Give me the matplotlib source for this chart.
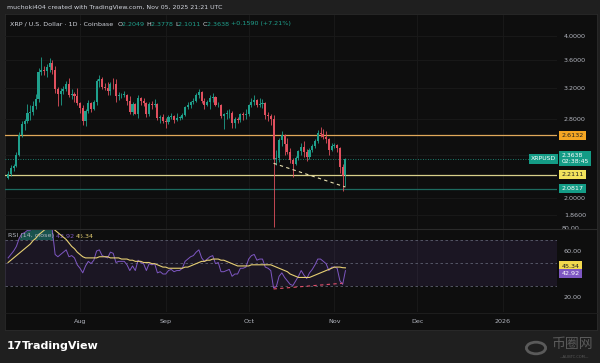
import matplotlib
matplotlib.use('Agg')
import matplotlib.pyplot as plt
import matplotlib.dates as mdates
import matplotlib.patches as mpatches
import numpy as np
import pandas as pd

# daily candles, Coinbase XRP/USD, 2025-07-06 .. 2025-11-05
opens = [2.18, 2.22, 2.27, 2.29, 2.40, 2.62, 2.74,
         2.78, 2.87, 2.89, 2.96, 3.05, 3.43, 3.46,
         3.44, 3.50, 3.56, 3.45, 3.18, 3.12, 3.16,
         3.19, 3.26, 3.10, 3.12, 3.09, 3.00, 2.94,
         2.78, 2.90, 3.00, 2.93, 3.01, 3.30, 3.33,
         3.22, 3.20, 3.16, 3.26, 3.25, 3.09, 3.10,
         3.11, 3.11, 3.03, 2.89, 2.99, 2.86, 3.07,
         3.03, 3.00, 2.86, 2.99, 2.98, 2.99, 2.82,
         2.83, 2.78, 2.77, 2.83, 2.84, 2.79, 2.82,
         2.82, 2.85, 2.95, 2.97, 3.01, 3.03, 3.10,
         3.14, 3.03, 2.98, 3.02, 3.06, 3.08, 2.97,
         2.98, 2.84, 2.86, 2.87, 2.88, 2.76, 2.80,
         2.79, 2.86, 2.85, 2.86, 2.97, 3.02, 3.04,
         2.98, 2.99, 3.00, 2.85, 2.84, 2.80, 2.36,
         2.37, 2.56, 2.62, 2.52, 2.43, 2.35, 2.31,
         2.37, 2.44, 2.49, 2.43, 2.38, 2.46, 2.50,
         2.55, 2.64, 2.63, 2.60, 2.57, 2.46, 2.50,
         2.51, 2.48, 2.28, 2.2049]
highs = [2.24, 2.30, 2.31, 2.43, 2.65, 2.78, 2.80,
         2.99, 2.97, 3.03, 3.12, 3.48, 3.66, 3.52,
         3.54, 3.64, 3.60, 3.52, 3.22, 3.20, 3.23,
         3.30, 3.34, 3.19, 3.15, 3.20, 3.01, 2.97,
         2.93, 3.04, 3.02, 3.04, 3.32, 3.38, 3.36,
         3.27, 3.28, 3.28, 3.34, 3.33, 3.14, 3.13,
         3.16, 3.12, 3.09, 3.01, 3.00, 3.10, 3.08,
         3.06, 3.02, 3.01, 3.03, 3.05, 3.00, 2.85,
         2.86, 2.81, 2.85, 2.87, 2.85, 2.87, 2.84,
         2.87, 2.96, 3.01, 3.03, 3.06, 3.13, 3.19,
         3.16, 3.07, 3.04, 3.10, 3.13, 3.09, 3.01,
         2.99, 2.87, 2.91, 2.92, 2.90, 2.83, 2.83,
         2.87, 2.89, 2.92, 2.99, 3.07, 3.10, 3.05,
         3.07, 3.05, 3.02, 2.89, 2.86, 2.85, 2.46,
         2.59, 2.66, 2.63, 2.59, 2.48, 2.37, 2.39,
         2.46, 2.53, 2.55, 2.47, 2.48, 2.52, 2.57,
         2.68, 2.71, 2.69, 2.66, 2.59, 2.53, 2.53,
         2.52, 2.49, 2.31, 2.3778]
lows = [2.17, 2.20, 2.24, 2.28, 2.39, 2.60, 2.68,
        2.75, 2.79, 2.85, 2.93, 3.02, 3.38, 3.39,
        3.36, 3.42, 3.40, 3.13, 2.96, 2.98, 3.12,
        3.16, 3.08, 3.05, 3.01, 2.98, 2.88, 2.73,
        2.72, 2.88, 2.89, 2.91, 2.98, 3.22, 3.19,
        3.17, 3.11, 3.11, 3.18, 3.02, 3.04, 3.06,
        3.08, 2.98, 2.86, 2.85, 2.86, 2.82, 2.98,
        2.96, 2.83, 2.84, 2.93, 2.95, 2.79, 2.76,
        2.76, 2.70, 2.74, 2.80, 2.75, 2.78, 2.79,
        2.80, 2.84, 2.93, 2.94, 2.99, 3.02, 3.06,
        3.00, 2.93, 2.96, 2.93, 3.02, 2.96, 2.95,
        2.82, 2.69, 2.80, 2.82, 2.70, 2.70, 2.76,
        2.77, 2.79, 2.80, 2.84, 2.95, 2.98, 2.95,
        2.95, 2.94, 2.80, 2.78, 2.73, 1.77, 2.30,
        2.33, 2.50, 2.40, 2.41, 2.32, 2.19, 2.30,
        2.35, 2.40, 2.38, 2.34, 2.36, 2.43, 2.48,
        2.53, 2.60, 2.57, 2.53, 2.40, 2.44, 2.48,
        2.43, 2.23, 2.06, 2.1011]
closes = [2.22, 2.27, 2.29, 2.40, 2.62, 2.74, 2.78,
          2.87, 2.89, 2.96, 3.05, 3.43, 3.46, 3.44,
          3.50, 3.56, 3.45, 3.18, 3.12, 3.16, 3.19,
          3.26, 3.10, 3.12, 3.09, 3.00, 2.94, 2.78,
          2.90, 3.00, 2.93, 3.01, 3.30, 3.33, 3.22,
          3.20, 3.16, 3.26, 3.25, 3.09, 3.10, 3.11,
          3.11, 3.03, 2.89, 2.99, 2.86, 3.07, 3.03,
          3.00, 2.86, 2.99, 2.98, 2.99, 2.82, 2.83,
          2.78, 2.77, 2.83, 2.84, 2.79, 2.82, 2.82,
          2.85, 2.95, 2.97, 3.01, 3.03, 3.10, 3.14,
          3.03, 2.98, 3.02, 3.06, 3.08, 2.97, 2.98,
          2.84, 2.86, 2.87, 2.88, 2.76, 2.80, 2.79,
          2.86, 2.85, 2.86, 2.97, 3.02, 3.04, 2.98,
          2.99, 3.00, 2.85, 2.84, 2.80, 2.36, 2.37,
          2.56, 2.62, 2.52, 2.43, 2.35, 2.31, 2.37,
          2.44, 2.49, 2.43, 2.38, 2.46, 2.50, 2.55,
          2.64, 2.63, 2.60, 2.57, 2.46, 2.50, 2.51,
          2.48, 2.28, 2.20, 2.3638]

rsi = [54, 57, 60, 64, 71, 75, 76,
       78, 78, 80, 82, 86, 84, 82,
       83, 84, 78, 57, 55, 57, 59,
       61, 55, 56, 54, 48, 45, 41,
       47, 51, 49, 52, 60, 61, 56,
       55, 54, 59, 58, 50, 51, 51,
       51, 48, 43, 47, 43, 52, 50,
       49, 43, 49, 48, 49, 41, 42,
       40, 40, 43, 44, 42, 43, 43,
       45, 51, 53, 55, 56, 59, 61,
       54, 51, 53, 55, 56, 49, 50,
       42, 42, 43, 44, 38, 40, 40,
       45, 45, 46, 53, 56, 57, 52,
       53, 53, 46, 45, 43, 28, 29,
       38, 41, 37, 34, 31, 30, 34,
       38, 43, 39, 36, 41, 44, 48,
       53, 53, 51, 49, 43, 46, 46,
       45, 34, 31, 42.92]
rsi_ma = [50, 52, 54, 56, 58, 60, 62,
          64, 66, 69, 71, 74, 76, 78,
          80, 81, 80, 78, 76, 74, 72,
          70, 67, 64, 62, 59, 57, 55,
          54, 54, 54, 54, 54, 55, 55,
          55, 55, 54, 54, 54, 54, 53,
          53, 53, 52, 52, 51, 51, 51,
          50, 50, 50, 49, 49, 48, 47,
          46, 46, 45, 45, 45, 45, 45,
          45, 46, 46, 47, 48, 49, 50,
          51, 51, 52, 52, 53, 53, 53,
          52, 52, 51, 50, 49, 48, 47,
          47, 47, 47, 47, 48, 48, 48,
          48, 48, 48, 48, 48, 47, 46,
          45, 44, 43, 42, 40, 39, 38,
          37, 37, 37, 37, 37, 38, 39,
          40, 41, 42, 43, 44, 45, 46,
          46, 46, 45.5, 45.34]

levels = [2.6132, 2.2111, 2.0817]
level_colors = ['#e0a85a', '#d8cf8a', '#1d6b60']
level_boxes = ['#f5a623', '#f2e35c', '#149c86']
price_ticks = [4.0, 3.6, 3.2, 2.8, 2.4, 2.0, 1.86]
month_ticks = ['2025-08-01', '2025-09-01', '2025-10-01', '2025-11-01', '2025-12-01', '2026-01-01']
month_labels = ['Aug', 'Sep', 'Oct', 'Nov', 'Dec', '2026']
trend_dates = ['2025-10-10', '2025-11-05']
trend_prices = [2.32, 2.096]
div_dates = ['2025-10-10', '2025-11-04']
div_rsi = [27, 32]

dates = pd.date_range('2025-07-06', periods=len(closes), freq='D')
x = mdates.date2num(dates)
o, h, l, c = map(np.array, (opens, highs, lows, closes))

W, H = 600, 363
BG = '#0e0e0e'
OUT = '#1f1f1f'
TXT = '#b2b5be'
UP, DN = '#1fa08c', '#e0505e'


def fx(px):
    return px / W


def fy(py):
    return 1 - py / H


fig = plt.figure(figsize=(6, 3.63), dpi=100, facecolor=OUT)

# chart panel background
panel = fig.add_axes([fx(5), fy(330), (597 - 5) / W, (330 - 14) / H])
panel.set_facecolor(BG)
panel.set_xticks([])
panel.set_yticks([])
for s in panel.spines.values():
    s.set_color('#2a2a2a')
    s.set_linewidth(0.6)

x0 = mdates.date2num(pd.Timestamp('2025-08-01'))
pxday = 2.765
xlim = (x0 - 75 / pxday, x0 + 477 / pxday)

# price pane
ax = fig.add_axes([fx(5), fy(229), (557 - 5) / W, (229 - 15) / H])
ax.set_facecolor('none')
ax.set_yscale('log')
ax.set_ylim(2 * np.exp(-31 / 234), 2 * np.exp(183 / 234))
ax.set_xlim(*xlim)
for s in ax.spines.values():
    s.set_visible(False)

mt = mdates.date2num(pd.to_datetime(month_ticks))
for v in mt:
    ax.axvline(v, color='#1a1a1a', lw=0.6, zorder=0)
for p in price_ticks:
    ax.axhline(p, color='#1a1a1a', lw=0.6, zorder=0)

up = c >= o
col = np.where(up, UP, DN)
ax.vlines(x, l, h, colors=col, lw=0.6, zorder=3)
body_lo = np.minimum(o, c)
body_hi = np.maximum(np.maximum(o, c), body_lo * 1.003)
ax.bar(x, body_hi - body_lo, bottom=body_lo, width=0.75, color=col, zorder=4, linewidth=0)

for lv, lc in zip(levels, level_colors):
    ax.axhline(lv, color=lc, lw=0.9, zorder=2)
ax.axhline(closes[-1], color=UP, lw=0.6, ls=(0, (1, 2)), zorder=2)

td = mdates.date2num(pd.to_datetime(trend_dates))
ax.plot(td, trend_prices, color='#e8e0b0', lw=0.8, ls=(0, (3, 3)), zorder=5)

ax.yaxis.tick_right()
ax.set_yticks(price_ticks)
ax.set_yticklabels(['%.4f' % p for p in price_ticks])
ax.yaxis.set_minor_locator(matplotlib.ticker.NullLocator())
ax.tick_params(axis='y', length=0, pad=5, labelsize=4.6, labelcolor=TXT)
ax.set_xticks([])

trans = ax.get_yaxis_transform()
for lv, bc in zip(levels, level_boxes):
    tc = '#202020' if bc != '#149c86' else 'white'
    ax.text(1.008, lv, '%.4f' % lv, transform=trans, ha='left', va='center', fontsize=4.6,
            color=tc, bbox=dict(boxstyle='square,pad=0.35', fc=bc, ec='none'), zorder=10)
ax.text(1.008, closes[-1], '%.4f\n02:38:45' % closes[-1], transform=trans, ha='left', va='center',
        fontsize=4.4, color='white', linespacing=1.2,
        bbox=dict(boxstyle='square,pad=0.35', fc='#149c86', ec='none'), zorder=10)
ax.text(0.998, closes[-1], 'XRPUSD', transform=trans, ha='right', va='center', fontsize=4.4,
        color='white', bbox=dict(boxstyle='square,pad=0.35', fc='#149c86', ec='none'), zorder=10)

# RSI pane
rx = fig.add_axes([fx(5), fy(312), (557 - 5) / W, (312 - 229) / H])
rx.set_facecolor('none')
rx.set_xlim(*xlim)
rx.set_ylim(20 - 15 / 1.15, 20 + 68 / 1.15)
for s in rx.spines.values():
    s.set_visible(False)
for v in mt:
    rx.axvline(v, color='#1a1a1a', lw=0.6, zorder=0)
rx.axhspan(30, 70, color='#7e57c2', alpha=0.12, lw=0)
for lv in (70, 50, 30):
    rx.axhline(lv, color='#5d6070', lw=0.6, ls=(0, (3, 3)))
rv = np.array(rsi, dtype=float)
rx.fill_between(x, 70, rv, where=rv > 70, interpolate=True, color='#26a69a', alpha=0.45, lw=0)
rx.fill_between(x, 30, rv, where=rv < 30, interpolate=True, color='#f23645', alpha=0.45, lw=0)
rx.plot(x, rsi, color='#7e57c2', lw=0.7)
rx.plot(x, rsi_ma, color='#e6cf73', lw=0.8)
dd = mdates.date2num(pd.to_datetime(div_dates))
rx.plot(dd, div_rsi, color='#e0506a', lw=0.8, ls=(0, (3, 3)))

rx.yaxis.tick_right()
rx.set_yticks([20, 60])
rx.set_yticklabels(['20.00', '60.00'])
rx.tick_params(axis='y', length=0, pad=5, labelsize=4.6, labelcolor=TXT)
rx.set_xticks(mt)
rx.set_xticklabels(month_labels)
rx.tick_params(axis='x', length=0, pad=5, labelsize=4.6, labelcolor=TXT)
rtr = rx.get_yaxis_transform()
rx.text(1.008, 80, '80.00', transform=rtr, ha='left', va='center', fontsize=4.6, color=TXT, clip_on=False)
rx.text(1.008, rsi_ma[-1] + 1.5, '%.2f' % rsi_ma[-1], transform=rtr, ha='left', va='center', fontsize=4.6,
        color='#202020', bbox=dict(boxstyle='square,pad=0.35', fc='#f2d94e', ec='none'), zorder=10)
rx.text(1.008, rsi[-1] - 2.5, '%.2f' % rsi[-1], transform=rtr, ha='left', va='center', fontsize=4.6,
        color='white', bbox=dict(boxstyle='square,pad=0.35', fc='#7e57c2', ec='none'), zorder=10)

# pane separators
fig.add_artist(plt.Line2D([fx(5), fx(597)], [fy(229), fy(229)], color='#2a2a2a', lw=0.8))
fig.add_artist(plt.Line2D([fx(5), fx(597)], [fy(313), fy(313)], color='#202020', lw=0.6))

fig.text(fx(7), fy(7), 'muchoki404 created with TradingView.com, Nov 05, 2025 21:21 UTC',
         color='#d1d4dc', fontsize=4.5, va='center')

# legend lines made of coloured pieces, each placed right after the previous one
header = [('XRP / U.S. Dollar · 1D · Coinbase  ', '#d1d4dc'), ('O', '#d1d4dc'), ('2.2049 ', UP),
          ('H', '#d1d4dc'), ('2.3778 ', UP), ('L', '#d1d4dc'), ('2.1011 ', UP),
          ('C', '#d1d4dc'), ('2.3638 ', UP), ('+0.1590 (+7.21%)', UP)]
prev = fig.text(fx(10), fy(24), header[0][0], color=header[0][1], fontsize=4.6, va='center')
for s, cc in header[1:]:
    prev = ax.annotate(s, xy=(1, 0.5), xycoords=prev, va='center', ha='left', color=cc, fontsize=4.6,
                       annotation_clip=False)

legend = [('RSI (14, close) ', '#b2b5be'), ('42.92 ', '#7e57c2'), ('45.34', '#e6cf73')]
prev = fig.text(fx(8), fy(236), legend[0][0], color=legend[0][1], fontsize=4.6, va='center')
for s, cc in legend[1:]:
    prev = ax.annotate(s, xy=(1, 0.5), xycoords=prev, va='center', ha='left', color=cc, fontsize=4.6,
                       annotation_clip=False)

# footer
fig.text(fx(7), fy(346), '17', color='white', fontsize=8, fontweight='black', va='center')
fig.text(fx(22), fy(346), 'TradingView', color='white', fontsize=8, fontweight='bold', va='center')
fig.add_artist(mpatches.Circle((fx(536), fy(348)), 0.016, transform=fig.transFigure, fill=False,
                               ec='#5a5a5a', lw=2))
fig.text(fx(552), fy(344), '币圈网', color='#5a5a5a', fontsize=10, va='center',
         family=['Noto Sans CJK SC', 'DejaVu Sans'])
fig.text(fx(575), fy(357), '—ALIBTC.COM—', color='#5a5a5a', fontsize=2.6, va='center', ha='center')

fig.savefig('out.png', dpi=100, facecolor=OUT)
